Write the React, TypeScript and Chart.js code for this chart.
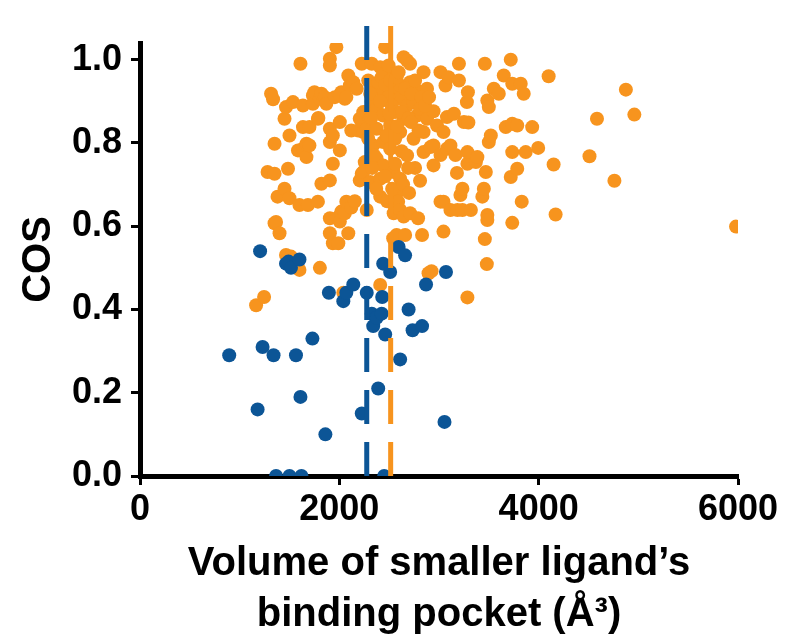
import React, { useEffect, useRef } from "react";
import { Chart, registerables } from "chart.js";

Chart.register(...registerables);

// Orange series: [volume (Å³), COS]
const orangeVolumes: number[] = [
  1165, 1245, 1280, 1315, 1335, 1350, 1350, 1350, 1365, 1380, 1400, 1450, 1450, 1465, 1465, 1485, 1500, 1500, 1515, 1535,
  1585, 1610, 1600, 1600, 1635, 1635, 1635, 1670, 1670, 1685, 1700, 1700, 1735, 1735, 1750, 1785, 1785, 1790, 1805, 1805,
  1820, 1820, 1855, 1870, 1905, 1905, 1905, 1905, 1905, 1905, 1905, 1935, 1935, 1935, 1955, 1970, 1980, 1990, 2005, 2005,
  2005, 2020, 2020, 2040, 2055, 2055, 2070, 2090, 2090, 2105, 2120, 2120, 2140, 2155, 2175, 2190, 2205, 2205, 2225, 2225,
  2240, 2240, 2240, 2255, 2275, 2275, 2275, 2305, 2310, 2325, 2325, 2340, 2360, 2375, 2375, 2375, 2410, 2410, 2410, 2410,
  2440, 2440, 2440, 2440, 2460, 2475, 2495, 2510, 2510, 2540, 2545, 2545, 2545, 2575, 2575, 2590, 2575, 2610, 2610, 2610,
  2610, 2610, 2645, 2645, 2645, 2660, 2680, 2680, 2710, 2710, 2710, 2745, 2745, 2760, 2780, 2780, 2790, 2810, 2810, 2830,
  2845, 2845, 2845, 2880, 2880, 2895, 2915, 2925, 2945, 2945, 2945, 2980, 3015, 3015, 3015, 3045, 3045, 3045, 3065, 3080,
  3080, 3095, 3115, 3115, 3150, 3165, 3180, 3185, 3200, 3200, 3215, 3235, 3235, 3250, 3280, 3285, 3285, 3285, 3290, 3295,
  3320, 3370, 3385, 3435, 3450, 3460, 3460, 3470, 3480, 3485, 3485, 3485, 3500, 3500, 3520, 3550, 3600, 3650, 3670, 3720,
  3720, 3735, 3735, 3735, 3735, 3785, 3785, 3820, 3830, 3850, 3870, 3935, 3995, 4100, 4150, 4170, 4510, 4585, 4760, 4875,
  4960, 5980,
  2290, 2310, 2390, 2425, 2460, 2490, 2510, 2525, 2560, 2575, 2595, 2625, 2660, 2695, 2725, 2760, 2795, 2825, 2860, 2475,
  2560, 2320, 2410, 2290, 2625, 2680, 2720, 2900, 2580, 2500, 2005, 2070, 2350, 2460, 2530, 2480, 2640, 2700, 2560, 2690,
  2370, 2330,
];
const orangeCos: number[] = [
  0.41, 0.43, 0.73, 0.918, 0.905, 0.726, 0.798, 0.607, 0.61, 0.671, 0.583, 0.858, 0.69, 0.886, 0.531, 0.738, 0.818, 0.667, 0.527, 0.898,
  0.782, 0.99, 0.651, 0.495, 0.89, 0.838, 0.786, 0.798, 0.766, 0.651, 0.838, 0.794, 0.914, 0.894, 0.922, 0.858, 0.659, 0.86, 0.906, 0.5,
  0.918, 0.702, 0.91, 0.894, 1.002, 0.986, 0.834, 0.71, 0.619, 0.583, 0.802, 0.818, 0.75, 0.559, 0.91, 1.03, 0.62, 0.559, 0.85, 0.782,
  0.611, 0.635, 0.922, 0.44, 0.906, 0.631, 0.659, 0.962, 0.583, 0.938, 0.83, 0.645, 0.946, 0.66, 0.93, 0.83, 0.858, 0.71, 0.99, 0.726,
  0.874, 0.826, 0.73, 0.754, 0.834, 0.874, 0.639, 0.858, 0.706, 0.99, 0.898, 0.794, 0.93, 0.882, 0.834, 0.762, 0.982, 0.714, 0.671, 0.459,
  0.922, 0.866, 0.802, 0.746, 1.03, 0.97, 0.986, 0.842, 0.786, 0.571, 0.93, 0.73, 0.631, 0.635, 0.679, 0.659, 0.579, 0.938, 0.906, 0.826,
  0.714, 0.639, 1.006, 0.858, 0.623, 0.579, 0.89, 0.998, 0.99, 0.946, 0.631, 0.898, 0.81, 0.74, 0.926, 0.866, 0.619, 0.882, 0.709, 0.579,
  0.97, 0.826, 0.778, 0.93, 0.858, 0.487, 0.79, 0.492, 0.876, 0.794, 0.746, 0.842, 0.97, 0.771, 0.659, 0.826, 0.659, 0.587, 0.938, 0.862,
  0.786, 0.958, 0.794, 0.639, 0.87, 0.771, 0.728, 0.639, 0.99, 0.95, 0.675, 0.69, 0.639, 0.85, 0.898, 0.75, 0.778, 0.429, 0.922, 0.849,
  0.639, 0.754, 0.766, 0.671, 0.69, 0.99, 0.569, 0.73, 0.509, 0.902, 0.627, 0.615, 0.886, 0.802, 0.818, 0.93, 0.918, 0.962, 0.838, 1.0,
  0.718, 0.942, 0.846, 0.778, 0.608, 0.842, 0.738, 0.942, 0.659, 0.918, 0.778, 0.838, 0.788, 0.96, 0.748, 0.628, 0.768, 0.858, 0.709, 0.928,
  0.868, 0.599,
  0.95, 0.918, 0.946, 0.958, 0.94, 0.91, 0.95, 0.89, 0.874, 0.958, 0.97, 0.874, 0.93, 0.86, 0.918, 0.95, 0.83, 0.91, 0.89, 0.818,
  0.81, 0.86, 0.9, 0.81, 0.78, 0.77, 0.85, 0.91, 0.84, 0.87, 0.914, 0.91, 0.77, 0.72, 0.69, 0.66, 0.7, 0.68, 0.75, 0.74,
  0.69, 0.74,
];

// Blue series: [volume (Å³), COS]
const blueVolumes: number[] = [
  895, 1180, 1205, 1230, 1340, 1365, 1465, 1490, 1515, 1600, 1500, 1620, 1565, 1610, 1730, 1860, 1895, 2040, 2070, 2140,
  2225, 2275, 2325, 2340, 2375, 2425, 2430, 2460, 2390, 2440, 2510, 2450, 2595, 2660, 2610, 2695, 2735, 2830, 2870, 3070,
  3055,
];
const blueCos: number[] = [
  0.29, 0.16, 0.54, 0.31, 0.29, 0, 0.51, 0.515, 0.5, 0.52, 0, 0, 0.29, 0.19, 0.33, 0.1, 0.44, 0.42, 0.44, 0.46,
  0.15, 0.44, 0.39, 0.36, 0.38, 0.39, 0.43, 0.34, 0.21, 0.51, 0.49, 0, 0.55, 0.53, 0.28, 0.4, 0.35, 0.36, 0.46, 0.49,
  0.13,
];

// Mean / reference lines (x position) and their vertical extent
const blueMean = 2275;
const orangeMean = 2515;
const meanLineSpan: number[] = [0, 1.1];

const xTickValues: number[] = [0, 2000, 4000, 6000];
const yTickValues: number[] = [0, 0.2, 0.4, 0.6, 0.8, 1.0];
const xTitle: string[] = ["Volume of smaller ligand\u2019s", "binding pocket (\u00C5\u00B3)"];
const yTitle = "COS";

const ORANGE = "#f7941e";
const BLUE = "#0c5596";
const FONT = "'Liberation Sans', Arial, Helvetica, sans-serif";

export default function App() {
  const ref = useRef<HTMLCanvasElement | null>(null);

  useEffect(() => {
    if (!ref.current) return;
    const orange = orangeVolumes.map((x, i) => ({ x, y: orangeCos[i] }));
    const blue = blueVolumes.map((x, i) => ({ x, y: blueCos[i] }));
    const chart = new Chart(ref.current, {
      type: "scatter",
      data: {
        datasets: [
          {
            label: "orange",
            data: orange,
            backgroundColor: ORANGE,
            borderWidth: 0,
            pointRadius: 7,
            order: 4,
          },
          {
            label: "blue",
            data: blue,
            backgroundColor: BLUE,
            borderWidth: 0,
            pointRadius: 7,
            order: 3,
          },
          {
            label: "orange mean",
            type: "line",
            data: meanLineSpan.map((y) => ({ x: orangeMean, y })),
            borderColor: ORANGE,
            borderWidth: 5,
            borderDash: [34, 18],
            pointRadius: 0,
            showLine: true,
            fill: false,
            clip: false,
            order: 2,
          } as any,
          {
            label: "blue mean",
            type: "line",
            data: meanLineSpan.map((y) => ({ x: blueMean, y })),
            borderColor: BLUE,
            borderWidth: 5,
            borderDash: [34, 18],
            pointRadius: 0,
            showLine: true,
            fill: false,
            clip: false,
            order: 1,
          } as any,
        ],
      },
      options: {
        responsive: false,
        animation: false,
        devicePixelRatio: 1,
        layout: { padding: { left: 8, right: 49, top: 43, bottom: 0 } },
        plugins: { legend: { display: false }, tooltip: { enabled: false } },
        scales: {
          x: {
            type: "linear",
            min: 0,
            max: 6000,
            afterBuildTicks: (scale: any) => {
              scale.ticks = xTickValues.map((value) => ({ value }));
            },
            afterFit: (scale: any) => {
              scale.height = 165;
            },
            border: { display: true, color: "#000", width: 5 },
            grid: {
              drawOnChartArea: false,
              drawTicks: true,
              tickLength: 9,
              tickWidth: 3,
              tickColor: "#000",
            },
            ticks: {
              color: "#000",
              padding: 3,
              maxRotation: 0,
              font: { family: FONT, size: 36, weight: "bold" },
              callback: (v: any) => String(v),
            },
            title: {
              display: true,
              text: xTitle,
              color: "#000",
              padding: { top: 0, bottom: 0 },
              font: { family: FONT, size: 40, weight: "bold", lineHeight: 1.28 },
            },
          },
          y: {
            type: "linear",
            min: 0,
            max: 1.04,
            afterBuildTicks: (scale: any) => {
              scale.ticks = yTickValues.map((value) => ({ value }));
            },
            afterFit: (scale: any) => {
              scale.width = 132;
            },
            border: { display: true, color: "#000", width: 5 },
            grid: {
              drawOnChartArea: false,
              drawTicks: true,
              tickLength: 9,
              tickWidth: 3,
              tickColor: "#000",
            },
            ticks: {
              color: "#000",
              padding: 9,
              font: { family: FONT, size: 36, weight: "bold" },
              callback: (v: any) => Number(v).toFixed(1),
            },
            title: {
              display: true,
              text: yTitle,
              color: "#000",
              padding: { top: 7, bottom: 0 },
              font: { family: FONT, size: 40, weight: "bold" },
            },
          },
        },
      },
    });
    return () => chart.destroy();
  }, []);

  return (
    <div style={{ position: "absolute", left: 0, top: 0, width: 787, height: 641, background: "#fff" }}>
      <canvas ref={ref} width={787} height={641} style={{ width: 787, height: 641 }} />
    </div>
  );
}
